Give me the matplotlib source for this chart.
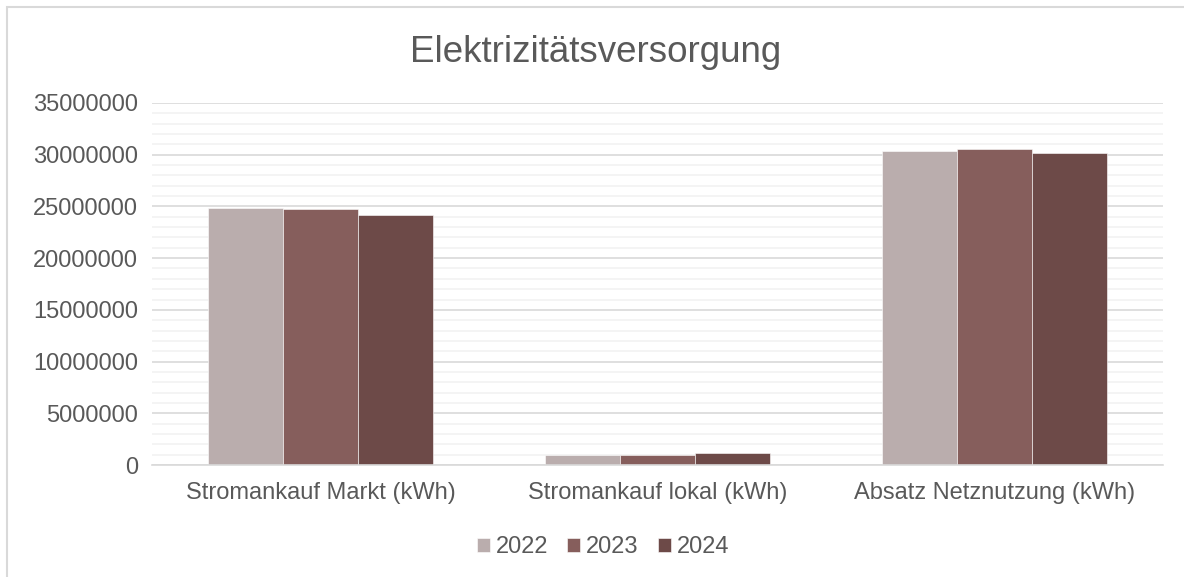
import numpy as np
import matplotlib.pyplot as plt
from matplotlib.patches import Rectangle
from matplotlib.ticker import MultipleLocator

# Daten
categories = ["Stromankauf Markt (kWh)", "Stromankauf lokal (kWh)", "Absatz Netznutzung (kWh)"]
years = ["2022", "2023", "2024"]
values_2022 = [24850000, 940000, 30400000]
values_2023 = [24750000, 1000000, 30600000]
values_2024 = [24200000, 1160000, 30170000]
colors = ["#BAADAD", "#865E5C", "#6D4A48"]

plt.rcParams['font.family'] = ['Liberation Sans', 'DejaVu Sans']
text_color = "#595959"

fig = plt.figure(figsize=(11.84, 5.77), dpi=100)
ax = fig.add_axes([152 / 1184, 1 - 465 / 577, 1011 / 1184, 362 / 577])

x = np.arange(len(categories))
width = 0.222
for i, (vals, year) in enumerate(zip([values_2022, values_2023, values_2024], years)):
    ax.bar(x + (i - 1) * width, vals, width, color=colors[i], label=year, zorder=3,
           edgecolor='white', linewidth=0.4)

ax.set_xlim(-0.5, 2.5)
ax.set_ylim(0, 35000000)
ax.yaxis.set_major_locator(MultipleLocator(5000000))
ax.yaxis.set_minor_locator(MultipleLocator(1000000))
ax.grid(axis='y', which='major', color='#D9D9D9', linewidth=1.2, zorder=0)
ax.grid(axis='y', which='minor', color='#F2F2F2', linewidth=1.2, zorder=0)
for s in ['top', 'right', 'left']:
    ax.spines[s].set_visible(False)
ax.spines['bottom'].set_color('#D9D9D9')
ax.spines['bottom'].set_linewidth(1.2)
ax.spines['bottom'].set_zorder(4)

ax.set_xticks(x)
ax.set_xticklabels(categories)
ax.tick_params(axis='both', which='both', length=0, labelsize=17, colors=text_color, pad=10)
ax.tick_params(axis='x', pad=12)
ax.ticklabel_format(axis='y', style='plain', useOffset=False)

fig.text(596 / 1184, 1 - 53 / 577, "Elektrizitätsversorgung", ha='center', va='center',
         fontsize=26.5, color=text_color)

leg = fig.legend(loc='center', bbox_to_anchor=(603 / 1184, 1 - 547 / 577), ncol=3, frameon=False,
                 fontsize=17, handlelength=0.55, handleheight=0.55, handletextpad=0.25,
                 columnspacing=0.8, labelcolor=text_color)

# Rahmen
fig.patches.append(Rectangle((6.5 / 1184, -0.1), 1.5, 1.1 - 7.5 / 577, transform=fig.transFigure,
                             fill=False, edgecolor='#D9D9D9', linewidth=1.5, zorder=0))

plt.savefig("out.png", dpi=100)
